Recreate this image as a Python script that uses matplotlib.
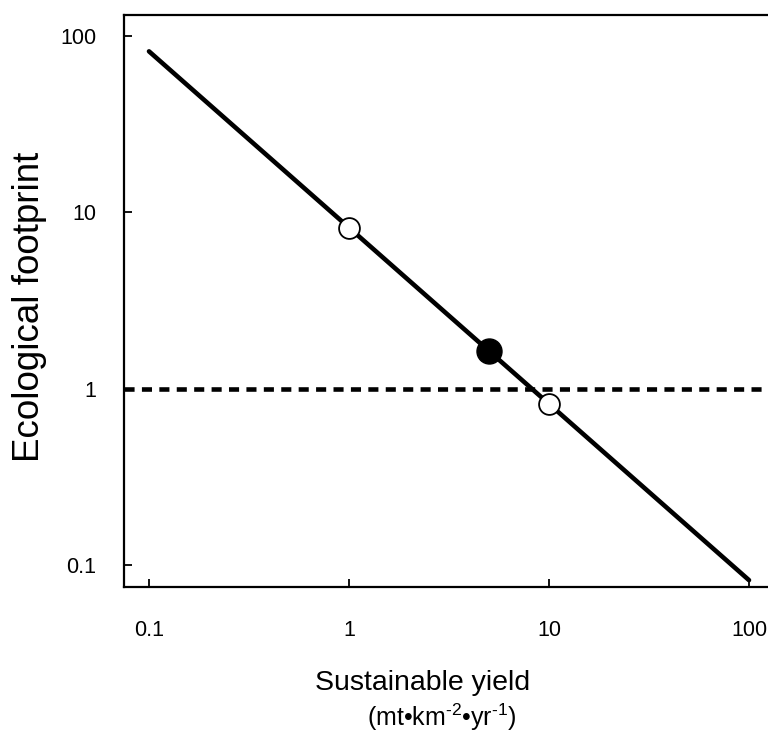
import numpy as np
import matplotlib.pyplot as plt
from matplotlib.ticker import FixedLocator, NullLocator

plt.rcParams['font.family'] = ['Liberation Sans', 'DejaVu Sans']
plt.rcParams['mathtext.fontset'] = 'custom'
plt.rcParams['mathtext.rm'] = 'Liberation Sans'
plt.rcParams['mathtext.it'] = 'Liberation Sans:italic'

# data
line_x = [0.1, 100]
line_y = [82, 0.082]
open_x = [1, 10]
open_y = [8.2, 0.82]
filled_x = [5]
filled_y = [1.64]
ref_level = 1
x_ticks = [0.1, 1, 10, 100]
x_labels = ["0.1", "1", "10", "100"]
y_ticks = [0.1, 1, 10, 100]
y_labels = ["0.1", "1", "10", "100"]

W, H = 768, 732
fig = plt.figure(figsize=(W / 100, H / 100), dpi=100)
# axes runs past the right edge as in the original
ax = fig.add_axes([124 / W, 1 - 587 / H, 660 / W, 572 / H])
ax.set_xscale("log")
ax.set_yscale("log")
ax.set_xlim(10 ** -1.125, 10 ** (-1.125 + 660 / 200))
ax.set_ylim(10 ** -1.125, 10 ** 2.12)

ax.plot(line_x, line_y, color="black", lw=3.3, solid_capstyle="round", zorder=2)
ax.axhline(ref_level, color="black", lw=3.3, ls=(0, (2.2, 1.6)), zorder=1)
ax.plot(open_x, open_y, "o", ms=15, mfc="white", mec="black", mew=1.3, zorder=3)
ax.plot(filled_x, filled_y, "o", ms=18, mfc="black", mec="black", zorder=3)

ax.xaxis.set_major_locator(FixedLocator(x_ticks))
ax.yaxis.set_major_locator(FixedLocator(y_ticks))
ax.set_xticklabels(x_labels)
ax.set_yticklabels(y_labels)
ax.xaxis.set_minor_locator(NullLocator())
ax.yaxis.set_minor_locator(NullLocator())
ax.tick_params(direction="in", length=6, width=1.3, labelsize=15.5)
ax.tick_params(axis="x", pad=24)
ax.tick_params(axis="y", pad=20)
for s in ax.spines.values():
    s.set_linewidth(1.6)

fig.text(30 / W, 1 - 307 / H, "Ecological footprint", rotation=90,
         ha="center", va="center", fontsize=26.5)
fig.text(423 / W, 1 - 683 / H, "Sustainable yield", ha="center", va="center", fontsize=20.5)
fig.text(442 / W, 1 - 717 / H, r"(mt•km$^{\text{-2}}$•yr$^{\text{-1}}$)",
         ha="center", va="center", fontsize=18)

fig.savefig("out.png", dpi=100)
